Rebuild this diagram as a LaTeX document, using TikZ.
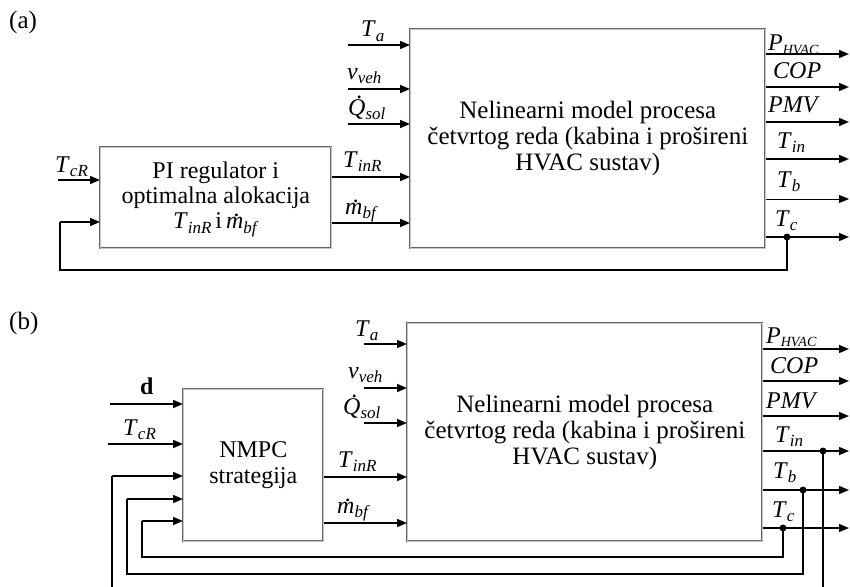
\documentclass[tikz,border=0pt]{standalone}
\usepackage{fontspec}
\setmainfont{Liberation Serif}
\usetikzlibrary{arrows.meta,calc}
\newcommand\isub[2]{\textit{#1}\raisebox{-4.5pt}{\fontsize{17}{17}\selectfont\smash{\textit{#2}}}}
\newcommand\dotover[3]{\leavevmode\setbox0\hbox{\textit{#1}}\rlap{\hbox to\wd0{\hss\kern#3\smash{\raisebox{#2}{.}}\hss}}\box0}
\begin{document}
\begin{tikzpicture}[x=1pt,y=-1pt,
  blk/.style={draw=gray!80!black, line width=0.6pt, double=gray!45, double distance=0.7pt,
              inner sep=0pt, anchor=north west, align=center},
  sig/.style={line width=1.5pt, -{Triangle[length=10pt,width=8pt]}},
  thinsig/.style={line width=0.8pt, -{Triangle[length=10pt,width=8pt]}},
  ln/.style={line width=1.5pt},
  lab/.style={font=\fontsize{24}{24}\selectfont, inner sep=0pt, anchor=base west},
  jdot/.style={circle, fill=black, inner sep=0pt, minimum size=7pt},
  bigtxt/.style={font=\fontsize{25}{26}\selectfont},
  smtxt/.style={font=\fontsize{24}{25}\selectfont}]
\useasboundingbox (0,0) rectangle (850,586);
\clip (0,0) rectangle (850,586);

% ---------------- (a) ----------------
\node[inner sep=0pt, anchor=base west, font=\fontsize{25}{25}\selectfont] (la) at (9,29) {(a)};
\node[blk, minimum width=355pt, minimum height=219pt, bigtxt] (P1) at (410,29)
  {Nelinearni model procesa\\četvrtog reda (kabina i prošireni\\HVAC sustav)};
\node[blk, minimum width=231pt, minimum height=101pt, smtxt] (C1) at (100,147)
  {PI regulator i\\optimalna alokacija\\\isub{T}{inR}\,i\,\isub{\dotover{m}{0.5em}{0.2em}}{bf}};

% inputs to P1
\coordinate (a1) at (348,45);
\coordinate (a2) at (348,89);
\coordinate (a3) at (348,124);
\draw[sig] (a1) -- (a1 -| P1.west);
\draw[sig] (a2) -- (a2 -| P1.west);
\draw[sig] (a3) -- (a3 -| P1.west);
\draw[sig] (C1.east |- 0,177) -- (P1.west |- 0,177);
\draw[sig] (C1.east |- 0,223) -- (P1.west |- 0,223);
\node[lab] (la1) at (361,37) {\isub{T}{a}};
\node[lab] (la2) at (347,79) {\isub{v}{veh}};
\node[lab] (la3) at (348,115) {\isub{\dotover{Q}{0.7em}{0.24em}}{sol}};
\node[lab] (la4) at (343,167) {\isub{T}{inR}};
\node[lab] (la5) at (345,214) {\isub{\dotover{m}{0.5em}{0.2em}}{bf}};

% reference input
\coordinate (acr) at (58,180);
\draw[sig] (acr) -- (acr -| C1.west);
\node[lab] (la6) at (55,172) {\isub{T}{cR}};

% outputs of P1
\coordinate (ao1) at (849,54);
\coordinate (ao2) at (849,87);
\coordinate (ao3) at (849,122);
\coordinate (ao4) at (849,159);
\coordinate (ao5) at (849,199);
\coordinate (ao6) at (849,237);
\draw[sig] (ao1 -| P1.east) -- (ao1);
\draw[sig] (ao2 -| P1.east) -- (ao2);
\draw[sig] (ao3 -| P1.east) -- (ao3);
\draw[sig] (ao4 -| P1.east) -- (ao4);
\draw[thinsig] (ao5 -| P1.east) -- (ao5);
\draw[sig] (ao6 -| P1.east) -- (ao6);
\node[lab] (lo1) at (768,51) {\textit{P}\raisebox{-3pt}{\fontsize{14}{14}\selectfont\textit{HVAC}}};
\node[lab] (lo2) at (773,78) {\textit{COP}};
\node[lab] (lo3) at (768,112) {\textit{PMV}};
\node[lab] (lo4) at (777,148) {\isub{T}{in}};
\node[lab] (lo5) at (777,187) {\isub{T}{b}};
\node[lab] (lo6) at (775,226) {\isub{T}{c}};

% feedback (a)
\node[jdot] (ja) at (787,237) {};
\coordinate (fa1) at (787,270);
\coordinate (fa2) at (60,270);
\coordinate (fa3) at (60,222);
\draw[ln] (ja.center) -- (fa1) -- (fa2) -- (fa3);
\draw[sig] (fa3) -- (fa3 -| C1.west);

% ---------------- (b) ----------------
\node[inner sep=0pt, anchor=base west, font=\fontsize{25}{25}\selectfont] (lb) at (9,329) {(b)};
\node[blk, minimum width=355pt, minimum height=218pt, bigtxt] (P2) at (407,323)
  {Nelinearni model procesa\\četvrtog reda (kabina i prošireni\\HVAC sustav)};
\node[blk, minimum width=140pt, minimum height=152pt, smtxt] (C2) at (183,389)
  {NMPC\\[1pt]strategija};

% inputs to P2
\coordinate (b1) at (364,344);
\coordinate (b2) at (364,388);
\coordinate (b3) at (364,423);
\draw[sig] (b1) -- (b1 -| P2.west);
\draw[sig] (b2) -- (b2 -| P2.west);
\draw[sig] (b3) -- (b3 -| P2.west);
\draw[sig] (C2.east |- 0,477) -- (P2.west |- 0,477);
\draw[sig] (C2.east |- 0,523) -- (P2.west |- 0,523);
\node[lab] (lb1) at (355,336) {\isub{T}{a}};
\node[lab] (lb2) at (348,378) {\isub{v}{veh}};
\node[lab] (lb3) at (343,414) {\isub{\dotover{Q}{0.7em}{0.24em}}{sol}};
\node[lab] (lb4) at (338,467) {\isub{T}{inR}};
\node[lab] (lb5) at (337,513) {\isub{\dotover{m}{0.5em}{0.2em}}{bf}};

% d and reference inputs
\coordinate (bd) at (110,404);
\coordinate (bcr) at (108,444);
\draw[sig] (bd) -- (bd -| C2.west);
\draw[sig] (bcr) -- (bcr -| C2.west);
\node[lab] (lb6) at (140,394) {\textbf{d}};
\node[lab] (lb7) at (123,435) {\isub{T}{cR}};

% outputs of P2
\coordinate (bo1) at (849,349);
\coordinate (bo2) at (849,381);
\coordinate (bo3) at (849,416);
\coordinate (bo4) at (849,451);
\coordinate (bo5) at (849,490);
\coordinate (bo6) at (849,528);
\draw[sig] (bo1 -| P2.east) -- (bo1);
\draw[sig] (bo2 -| P2.east) -- (bo2);
\draw[sig] (bo3 -| P2.east) -- (bo3);
\draw[sig] (bo4 -| P2.east) -- (bo4);
\draw[sig] (bo5 -| P2.east) -- (bo5);
\draw[sig] (bo6 -| P2.east) -- (bo6);
\node[lab] (mo1) at (766,343) {\textit{P}\raisebox{-3pt}{\fontsize{14}{14}\selectfont\textit{HVAC}}};
\node[lab] (mo2) at (770,373) {\textit{COP}};
\node[lab] (mo3) at (766,408) {\textit{PMV}};
\node[lab] (mo4) at (775,442) {\isub{T}{in}};
\node[lab] (mo5) at (773,478) {\isub{T}{b}};
\node[lab] (mo6) at (772,517) {\isub{T}{c}};

% feedback (b)
\node[jdot] (jc) at (783,528) {};
\node[jdot] (jb) at (803,490) {};
\node[jdot] (ji) at (823,451) {};
\coordinate (fc1) at (783,557);
\coordinate (fc2) at (142,557);
\coordinate (fc3) at (142,521);
\coordinate (fb1) at (803,574);
\coordinate (fb2) at (127,574);
\coordinate (fb3) at (127,499);
\coordinate (fi1) at (823,595);
\coordinate (fi2) at (112,595);
\coordinate (fi3) at (112,476);
\draw[ln] (jc.center) -- (fc1) -- (fc2) -- (fc3);
\draw[sig] (fc3) -- (fc3 -| C2.west);
\draw[ln] (jb.center) -- (fb1) -- (fb2) -- (fb3);
\draw[sig] (fb3) -- (fb3 -| C2.west);
\draw[ln] (ji.center) -- (fi1) -- (fi2) -- (fi3);
\draw[sig] (fi3) -- (fi3 -| C2.west);
\end{tikzpicture}
\end{document}
